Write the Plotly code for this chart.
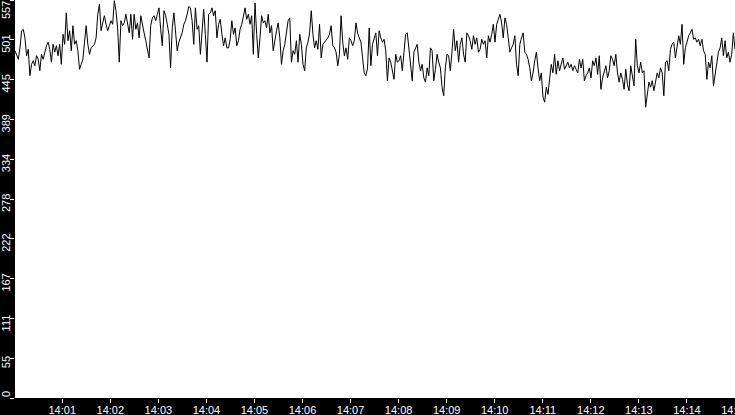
import pandas as pd
import plotly.graph_objects as go

# readings, roughly every 2 s from 14:00:01 to 14:15:00
values_1 = [486, 479, 474, 490, 514, 516, 504, 479, 488, 451, 467, 472, 465, 479, 474, 458, 481, 474,
            484, 493, 498, 488, 470, 495, 484, 493, 479, 495, 467, 509, 495, 539, 500, 514, 486, 521,
            495, 500, 486, 460, 467, 474, 498, 521, 495, 481, 490, 493, 495, 504, 537, 551, 514, 525,
            535, 523, 514, 521, 528, 523, 556, 542, 518, 470, 528, 521, 525, 537, 523, 511]
values_2 = [537, 502, 537, 516, 525, 504, 535, 521, 511, 500, 488, 476, 521, 532, 535, 528, 537, 546,
            516, 493, 542, 535, 523, 509, 462, 518, 539, 514, 486, 498, 504, 511, 523, 528, 537, 548,
            546, 528, 495, 546, 516, 521, 481, 518, 544, 509, 470, 537, 539, 546, 535, 542, 504, 523,
            530, 509, 493, 504, 490, 490, 502, 528, 509, 518, 493, 500, 516, 523, 535, 546, 530, 537,
            523, 535, 481]
values_3 = [553, 509, 476, 504, 535, 525, 528, 518, 537, 511, 521, 486, 504, 514, 525, 504, 467, 486,
            495, 509, 528, 532, 470, 486, 481, 500, 470, 509, 495, 467, 458, 490, 498, 511, 542, 509,
            490, 500, 488, 523, 476, 495, 498, 502, 504, 509, 521, 493, 490, 484, 465, 481, 535, 498,
            479, 490, 474, 504, 500, 493, 500, 525, 511, 504, 498, 476, 455, 451, 462, 518, 465, 495,
            504, 511, 479]
values_4 = [514, 504, 498, 502, 486, 444, 476, 470, 455, 446, 481, 470, 472, 479, 458, 490, 509, 511,
            490, 474, 444, 484, 490, 495, 470, 458, 467, 448, 442, 462, 451, 490, 486, 444, 460, 481,
            470, 462, 435, 423, 462, 481, 479, 458, 484, 516, 486, 500, 470, 495, 504, 481, 470, 511,
            507, 500, 488, 507, 495, 504, 484, 488, 502, 495, 500, 476, 507, 498, 509, 523, 498, 523,
            530, 537, 525, 504]
values_5 = [532, 523, 504, 484, 490, 495, 507, 467, 451, 495, 504, 511, 484, 481, 474, 462, 444, 455,
            472, 484, 462, 444, 455, 421, 414, 435, 425, 451, 467, 455, 481, 453, 472, 458, 467, 476,
            460, 465, 470, 462, 467, 458, 465, 460, 455, 474, 462, 474, 444, 451, 455, 462, 448, 472,
            465, 476, 453, 479, 432, 448, 458, 465, 448, 458, 479, 474, 465, 481, 455, 442, 455, 446,
            432, 460, 439, 430]
values_6 = [465, 448, 437, 502, 465, 455, 470, 455, 458, 407, 425, 442, 435, 444, 430, 444, 455, 448,
            462, 455, 423, 470, 472, 458, 488, 495, 498, 476, 490, 507, 495, 523, 467, 490, 498, 507,
            511, 516, 502, 504, 498, 502, 493, 502, 486, 481, 446, 470, 462, 479, 437, 453, 467, 484,
            490, 504, 479, 500, 476, 484, 470, 481, 511, 488]

values = values_1 + values_2 + values_3 + values_4 + values_5 + values_6
times = pd.date_range("2024-01-01 14:00:01", "2024-01-01 14:15:00", periods=len(values))

y_max = 557
ytick_labels = ["0", "55", "111", "167", "222", "278", "334", "389", "445", "501", "557"]
ytick_vals = [y_max * i / 10 for i in range(len(ytick_labels))]

fig = go.Figure()
fig.add_trace(go.Scatter(x=times, y=values, mode="lines", line=dict(color="black", width=1),
                         hoverinfo="skip", showlegend=False))

fig.update_layout(
    width=735, height=415,
    margin=dict(l=15, r=0, t=0, b=17, autoexpand=False),
    paper_bgcolor="black", plot_bgcolor="white",
    font=dict(family="Liberation Sans", size=11, color="white"),
)
fig.update_xaxes(range=[times[0], pd.Timestamp("2024-01-01 14:15:00")],
                 tick0="2024-01-01 14:00:00", dtick=60000, tickformat="%H:%M",
                 ticks="outside", ticklen=4, tickcolor="white", showgrid=False,
                 zeroline=False, showline=False, tickangle=0, automargin=False,
                 ticklabelstandoff=-2, ticklabeloverflow="allow")
fig.update_yaxes(range=[0, y_max], tickvals=ytick_vals, showticklabels=False,
                 ticks="outside", ticklen=4, tickcolor="white", showgrid=False,
                 zeroline=False, showline=False, automargin=False)

# y labels: rotated, sitting a little below their tick, kept inside the plot height
for i, (v, lab) in enumerate(zip(ytick_vals, ytick_labels)):
    if i == 0:
        anchor, shift = "bottom", 0
    elif i == len(ytick_vals) - 1:
        anchor, shift = "top", 0
    else:
        anchor, shift = "middle", -4
    fig.add_annotation(x=0, xref="paper", y=v, yref="y", text=lab, showarrow=False,
                       textangle=-90, xanchor="right", xshift=-2, yanchor=anchor, yshift=shift,
                       borderpad=0, font=dict(family="Liberation Sans", size=11, color="white"))

# page body has a default 8px margin, drop it so the chart sits at the corner
fig.write_html("out.html", config={"displayModeBar": False},
               post_script="document.body.style.margin='0';")
